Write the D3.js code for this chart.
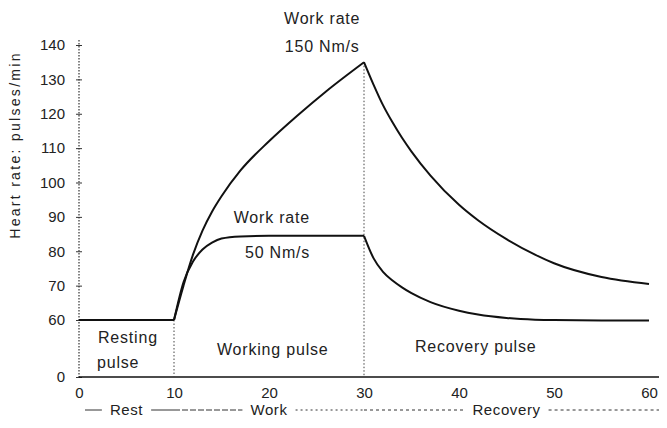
<!DOCTYPE html>
<html><head><meta charset="utf-8">
<script src="https://cdn.jsdelivr.net/npm/d3@7"></script>
<style>
body{margin:0;background:#fff;}
text{font-family:"Liberation Sans",Arial,sans-serif;fill:#222;}
</style></head><body>
<svg id="c" width="667" height="428"></svg>
<script>
// ---- data ----
const xTicks = [0,10,20,30,40,50,60];
const yTicks = [0,60,70,80,90,100,110,120,130,140];
const restTime = [0,10];
const restHR = [60,60];
const workTime = [10,11,12,13,14,15,17,20,23,26,30];
const work50 = [60,71,77,80.5,82.5,83.7,84.3,84.5,84.5,84.5,84.5];
const work150 = [60,70,79,86,91.5,96,103.5,112,119.5,126.5,135];
const recTime = [30,31,32,33,34,35,37,40,42,45,48,50,55,60];
const rec50 = [84.5,78,74,71.5,69.5,67.8,65.2,62.7,61.6,60.6,60.1,59.9,59.6,59.5];
const rec150 = [135,128.5,122.5,117.5,113,109,102,93.5,89,83.5,79,76.5,72.5,70.5];
const phaseNames = ["Rest","Work","Recovery"];
const phaseStart = [0,10,30];
const phaseEnd = [10,30,60];
const regionLabels = ["Resting","pulse","Working pulse","Recovery pulse"];
const yLabel = "Heart rate: pulses/min";

// ---- drawing ----
const svg = d3.select("#c");
const x = d3.scaleLinear().domain([0,60]).range([79,649]);
const y = d3.scaleLinear().domain([0,60,140]).range([377,320,45]);

// y axis
const ya = svg.append("g").attr("transform",`translate(${x(0)},0)`)
  .call(d3.axisLeft(y).tickValues(yTicks).tickSize(3).tickPadding(11));
ya.select(".domain").remove();
ya.selectAll(".tick line").attr("x1",-3).attr("x2",3).attr("stroke","#333");
ya.selectAll("text").style("font-size","15px").style("font-family","Liberation Sans, Arial").attr("fill","#222");
svg.append("line").attr("x1",x(0)).attr("x2",x(0)).attr("y1",40).attr("y2",y(0))
  .attr("stroke","#333").attr("stroke-width",1.2).attr("stroke-dasharray","1.5,1.5");

// x axis
const xa = svg.append("g").attr("transform",`translate(0,${y(0)})`)
  .call(d3.axisBottom(x).tickValues(xTicks).tickSize(0).tickPadding(10));
xa.select(".domain").remove();
xa.selectAll("text").style("font-size","15px").style("font-family","Liberation Sans, Arial").attr("fill","#222");
svg.append("line").attr("x1",x(0)).attr("x2",x(60)+10).attr("y1",y(0)).attr("y2",y(0))
  .attr("stroke","#111").attr("stroke-width",1.6);

// dotted phase boundaries
svg.append("line").attr("x1",x(10)).attr("x2",x(10)).attr("y1",y(60)).attr("y2",y(0))
  .attr("stroke","#444").attr("stroke-width",1).attr("stroke-dasharray","1.5,2");
svg.append("line").attr("x1",x(30)).attr("x2",x(30)).attr("y1",y(rec150[0])).attr("y2",y(0))
  .attr("stroke","#444").attr("stroke-width",1).attr("stroke-dasharray","1.5,2");

// curves
const line = d3.line().x(d=>x(d[0])).y(d=>y(d[1])).curve(d3.curveMonotoneX);
const segs = [
  d3.zip(restTime,restHR),
  d3.zip(workTime,work50),
  d3.zip(workTime,work150),
  d3.zip(recTime,rec50),
  d3.zip(recTime,rec150)
];
svg.selectAll("path.curve").data(segs).enter().append("path").attr("class","curve")
  .attr("d",line).attr("fill","none").attr("stroke","#111").attr("stroke-width",2)
  .attr("stroke-linejoin","round");

// annotations
function txt(s,xx,yy,anchor,size){
  return svg.append("text").attr("x",xx).attr("y",yy).attr("text-anchor",anchor||"start")
    .style("font-size",(size||16)+"px").style("letter-spacing","0.8px").text(s);
}
txt("Work rate",x(25.6),24,"middle");
txt("150 Nm/s",x(25.6),52,"middle");
txt("Work rate",x(20.3),223,"middle");
txt("50 Nm/s",x(20.9),258,"middle");
txt(regionLabels[0],98,343);
txt(regionLabels[1],97,368);
txt(regionLabels[2],217,355);
txt(regionLabels[3],415,352);

// y label
svg.append("text").attr("transform","translate(20,145) rotate(-90)").attr("text-anchor","middle")
  .style("font-size","14px").style("letter-spacing","2.3px").text(yLabel);

// phase timeline
const ly = 410;
const pg = svg.append("g");
phaseNames.forEach((n,i)=>{
  const cx = (x(phaseStart[i])+x(phaseEnd[i]))/2;
  const t = pg.append("text").attr("x",cx).attr("y",ly+5).attr("text-anchor","middle")
    .style("font-size","15px").style("letter-spacing","0.6px").text(n);
  const w = t.node().getComputedTextLength()/2 + 8;
  const a = x(phaseStart[i]) + (i===0?6:0), b = x(phaseEnd[i]) + (i===2?10:0);
  const dash = i===0 ? null : (i===1 ? "6,2" : "3,3");
  pg.append("line").attr("x1",a).attr("x2",cx-w).attr("y1",ly).attr("y2",ly)
    .attr("stroke","#333").attr("stroke-width",1).attr("stroke-dasharray",dash);
  pg.append("line").attr("x1",cx+w).attr("x2",b).attr("y1",ly).attr("y2",ly)
    .attr("stroke","#333").attr("stroke-width",1).attr("stroke-dasharray",i===1?"2,3":dash);
});
</script></body></html>
